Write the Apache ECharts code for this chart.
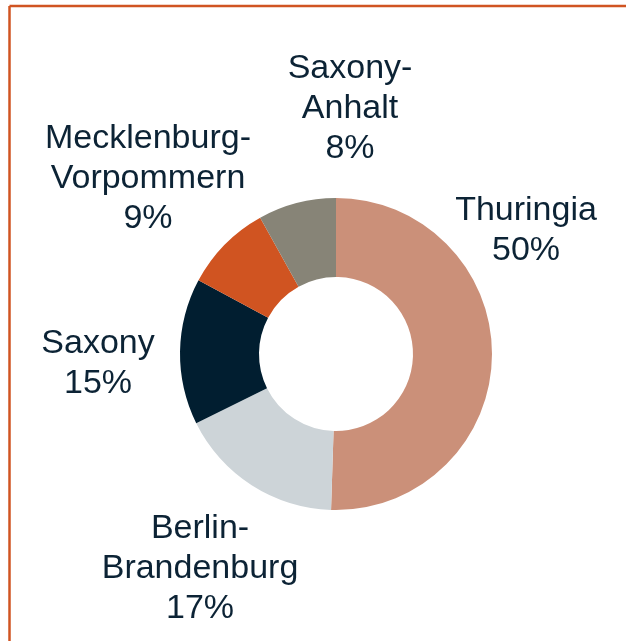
<!DOCTYPE html>
<html>
<head>
<meta charset="utf-8">
<script src="https://cdn.jsdelivr.net/npm/echarts@6/dist/echarts.min.js"></script>
<style>
  html, body { margin: 0; padding: 0; background: #fff; }
  #regionPie { width: 626px; height: 641px; }
</style>
</head>
<body>
<div id="regionPie"></div>
<script>
// clockwise from 12 o'clock
const regions = ["Thuringia", "Berlin-Brandenburg", "Saxony", "Mecklenburg-Vorpommern", "Saxony-Anhalt"];
const shares = [50, 17, 15, 9, 8];
const sliceColors = ["#CB9079", "#CDD4D8", "#011E30", "#D05421", "#878477"];

// where each label block sits (centre of text block)
const labelSpots = [
  [526, 231],
  [200, 569],
  [98, 364],
  [148, 179],
  [350, 109]
];

const chart = echarts.init(document.getElementById("regionPie"));

chart.setOption({
  animation: false,
  graphic: [
    {
      type: "line",
      shape: { x1: 9.5, y1: 6, x2: 626, y2: 6 },
      style: { stroke: "#D05422", lineWidth: 2.5 }
    },
    {
      type: "line",
      shape: { x1: 9.5, y1: 6, x2: 9.5, y2: 641 },
      style: { stroke: "#D05422", lineWidth: 2.5 }
    }
  ],
  series: [
    {
      type: "pie",
      center: [336, 354],
      radius: [77, 156],
      startAngle: 90,
      clockwise: true,
      avoidLabelOverlap: false,
      label: {
        show: true,
        position: "outside",
        color: "#0C2335",
        fontFamily: "Liberation Sans, Arial, sans-serif",
        fontSize: 34,
        lineHeight: 40,
        formatter: p => p.name.replace("-", "-\n") + "\n" + p.value + "%"
      },
      labelLine: { show: false },
      labelLayout: p => {
        const s = labelSpots[p.dataIndex];
        return { x: s[0], y: s[1], align: "center", verticalAlign: "middle" };
      },
      emphasis: { disabled: true },
      itemStyle: { borderWidth: 0 },
      data: regions.map((name, i) => ({
        name: name,
        value: shares[i],
        itemStyle: { color: sliceColors[i] }
      }))
    }
  ]
});
</script>
</body>
</html>
